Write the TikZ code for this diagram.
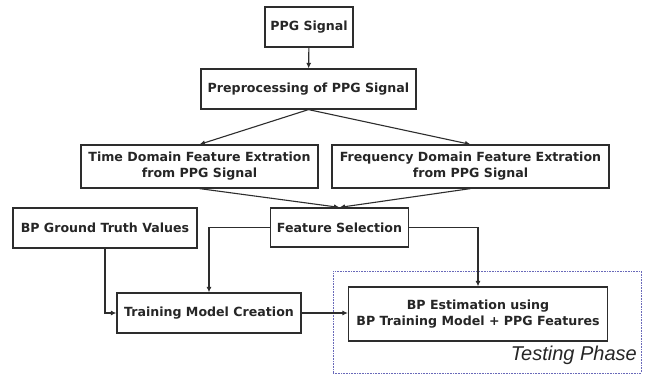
\documentclass[tikz,border=0pt]{standalone}
\usepackage{fontspec}
\setmainfont{DejaVu Sans}
\newfontfamily\handfont{Liberation Sans}
\usetikzlibrary{arrows.meta,calc}
\definecolor{linec}{RGB}{45,45,45}
\definecolor{dotc}{RGB}{105,105,185}
\begin{document}
\begin{tikzpicture}[x=1pt,y=-1pt,
  box/.style={draw=linec,line width=1.2pt,fill=white,inner sep=0pt,align=center,
    font=\fontsize{12.6}{16}\selectfont\bfseries,text=black!85},
  conn/.style={draw=linec,line width=1.1pt,-{Latex[length=5.5pt,width=5pt]}}]
\useasboundingbox (0,0) rectangle (651,375);
\fill[white] (0,0) rectangle (651,375);
% testing phase region
\node[draw=dotc,dash pattern=on 0.8pt off 0.8pt,line width=1pt,minimum width=308pt,minimum height=102pt,inner sep=0pt] (test) at (487,322) {};
\node[anchor=south east,inner sep=0pt,font=\handfont\itshape\fontsize{20}{20}\selectfont,text=black!85] (testlbl) at (637,365) {Testing Phase};
% boxes
\node[box,minimum width=88pt,minimum height=40pt] (ppg) at (309,27) {PPG Signal};
\node[box,minimum width=215pt,minimum height=40pt] (pre) at (308.5,89) {Preprocessing of PPG Signal};
\node[box,minimum width=237pt,minimum height=43pt] (time) at (199.5,166.5) {Time Domain Feature Extration\\from PPG Signal};
\node[box,minimum width=277pt,minimum height=43pt] (freq) at (470.5,166.5) {Frequency Domain Feature Extration\\from PPG Signal};
\node[box,minimum width=138pt,minimum height=39pt] (fs) at (339.5,227.5) {Feature Selection};
\node[box,minimum width=184pt,minimum height=40pt] (gt) at (105,228) {BP Ground Truth Values};
\node[box,minimum width=184pt,minimum height=40pt] (train) at (209,313) {Training Model Creation};
\node[box,minimum width=259pt,minimum height=54pt] (est) at (478,314) {BP Estimation using\\BP Training Model + PPG Features};
% connectors
\draw[conn] (ppg) -- (pre);
\draw[conn] (pre.south) -- (time.north);
\draw[conn] (pre.south) -- (freq.north);
\draw[conn] (time.south) -- (fs.north);
\draw[conn] (freq.south) -- (fs.north);
\draw[conn] (fs.west) -| (train.north);
\draw[conn] (fs.east) -| (est.north);
\draw[conn] (gt.south) |- (train.west);
\draw[conn] (train.east) -- (train.east -| est.west);
\end{tikzpicture}
\end{document}
